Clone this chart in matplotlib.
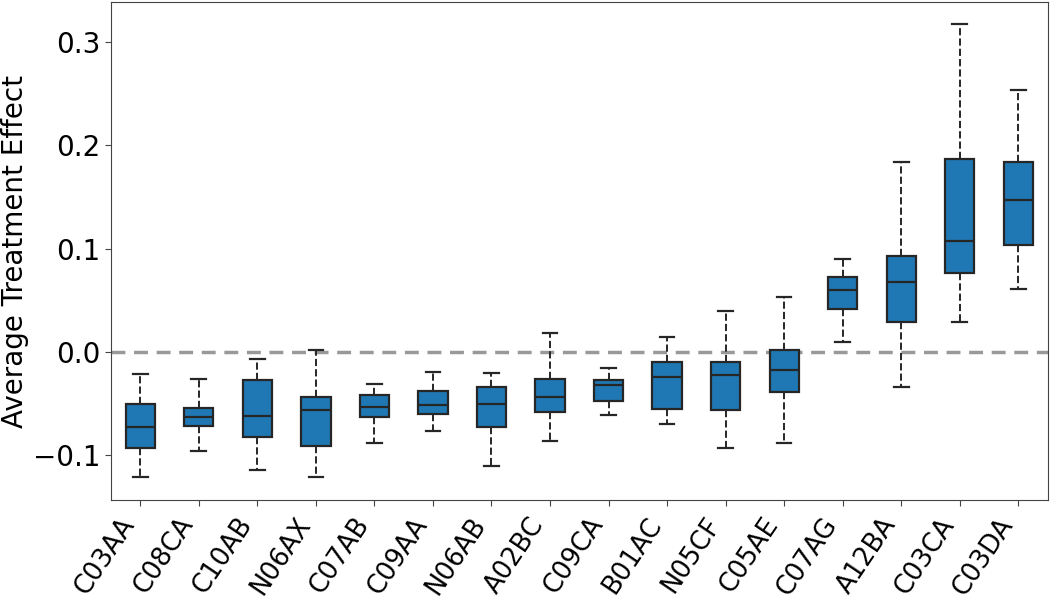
import matplotlib
matplotlib.use("Agg")
import matplotlib.pyplot as plt

plt.rcParams["font.family"] = ["DejaVu Sans"]

codes = ["C03AA", "C08CA", "C10AB", "N06AX", "C07AB", "C09AA", "N06AB", "A02BC",
         "C09CA", "B01AC", "N05CF", "C05AE", "C07AG", "A12BA", "C03CA", "C03DA"]
whis_lo = [-0.121, -0.096, -0.114, -0.121, -0.088, -0.077, -0.111, -0.086,
           -0.061, -0.070, -0.093, -0.088, 0.010, -0.034, 0.029, 0.061]
q1 = [-0.093, -0.072, -0.082, -0.091, -0.063, -0.060, -0.073, -0.058,
      -0.048, -0.055, -0.056, -0.039, 0.042, 0.029, 0.076, 0.104]
med = [-0.073, -0.063, -0.062, -0.056, -0.053, -0.051, -0.050, -0.044,
       -0.032, -0.024, -0.022, -0.018, 0.060, 0.068, 0.107, 0.147]
q3 = [-0.050, -0.054, -0.027, -0.044, -0.042, -0.038, -0.034, -0.026,
      -0.027, -0.010, -0.010, 0.002, 0.073, 0.093, 0.187, 0.184]
whis_hi = [-0.021, -0.026, -0.007, 0.002, -0.031, -0.019, -0.020, 0.018,
           -0.016, 0.014, 0.040, 0.053, 0.090, 0.184, 0.318, 0.254]

stats = []
for i, c in enumerate(codes):
    stats.append({"label": c, "whislo": whis_lo[i], "q1": q1[i], "med": med[i],
                  "q3": q3[i], "whishi": whis_hi[i], "fliers": []})

fig = plt.figure(figsize=(10.5, 6.02), dpi=100)
ax = fig.add_axes([0.1057, 0.1694, 0.892, 0.8273])

edge = "#262626"
ax.bxp(stats, widths=0.5, patch_artist=True, showfliers=False,
       boxprops=dict(facecolor="#1f77b4", edgecolor=edge, linewidth=1.6),
       medianprops=dict(color=edge, linewidth=1.6),
       whiskerprops=dict(color=edge, linewidth=1.4, linestyle="--"),
       capprops=dict(color=edge, linewidth=1.6))

ax.axhline(0, color="#999999", linestyle="--", linewidth=2.5, dashes=(4, 2.5), zorder=0.5)

ax.set_xlim(0.5, 16.5)
ax.set_ylim(-0.1435, 0.339)
ax.set_yticks([-0.1, 0.0, 0.1, 0.2, 0.3])
ax.set_ylabel("Average Treatment Effect", fontsize=20, labelpad=3)
ax.tick_params(axis="y", labelsize=20, color="#444444", length=4)
ax.tick_params(axis="x", labelsize=18.5, color="#444444", length=4, pad=5)
plt.setp(ax.get_xticklabels(), rotation=56, ha="right")
for s in ax.spines.values():
    s.set_color("#444444")

fig.savefig("out.png", dpi=100)
